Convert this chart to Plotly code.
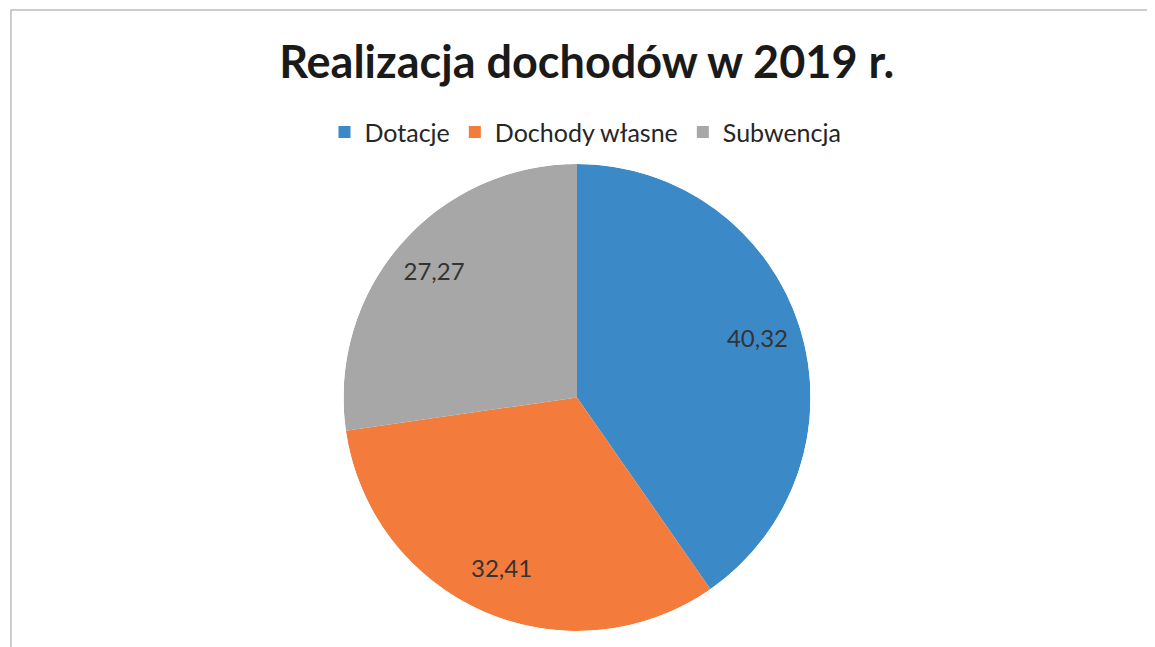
import plotly.graph_objects as go

labels = ["Dotacje", "Dochody własne", "Subwencja"]
values = [40.32, 32.41, 27.27]
colors = ["#3C89C8", "#F37B3C", "#A7A7A7"]

# slice geometry from the values (degrees clockwise from 12 o'clock)
total = sum(values)
widths = [v / total * 360 for v in values]
mids = []
acc = 0.0
for w in widths:
    mids.append(acc + w / 2)
    acc += w
label_texts = [f"{v:.2f}".replace(".", ",") for v in values]

fig = go.Figure()

# pie drawn as polar wedges so the labels can sit out towards the rim
for name, w, m, c in zip(labels, widths, mids, colors):
    fig.add_trace(
        go.Barpolar(
            r=[1],
            theta=[m],
            width=[w],
            name=name,
            marker=dict(color=c, line=dict(width=0)),
            hovertemplate=name + ": %{customdata}<extra></extra>",
            customdata=[label_texts[labels.index(name)]],
        )
    )

fig.add_trace(
    go.Scatterpolar(
        r=[0.81] * len(values),
        theta=mids,
        mode="text",
        text=label_texts,
        textfont=dict(family="Lato, Open Sans, sans-serif", size=24, color="#333333"),
        showlegend=False,
        hoverinfo="skip",
    )
)

fig.update_layout(
    width=1155,
    height=647,
    paper_bgcolor="white",
    plot_bgcolor="white",
    margin=dict(l=0, r=17, t=156, b=24, autoexpand=False),
    polar=dict(
        domain=dict(x=[0, 1], y=[0, 1]),
        bgcolor="rgba(0,0,0,0)",
        bargap=0,
        hole=0,
        radialaxis=dict(range=[0, 1], visible=False, showgrid=False),
        angularaxis=dict(
            rotation=90,
            direction="clockwise",
            visible=False,
            showgrid=False,
            showline=False,
        ),
    ),
    title=dict(
        text="<b>Realizacja dochodów w 2019 r.</b>",
        x=0.501,
        xanchor="center",
        y=0.916,
        yanchor="middle",
        font=dict(family="Lato, Open Sans, sans-serif", size=45, color="#1a1a1a"),
    ),
    legend=dict(
        orientation="h",
        x=0.500,
        xanchor="center",
        xref="container",
        yref="container",
        y=0.808,
        yanchor="middle",
        font=dict(family="Lato, Open Sans, sans-serif", size=25, color="#262626"),
        traceorder="normal",
        itemwidth=30,
    ),
    showlegend=True,
)

# light frame of the chart area
fig.add_shape(
    type="rect",
    xref="paper",
    yref="paper",
    x0=0.0026,
    x1=1.006,
    y0=-0.1,
    y1=1.330,
    line=dict(color="#bdbdbd", width=1.5),
    layer="below",
)

fig.write_html("out.html")
